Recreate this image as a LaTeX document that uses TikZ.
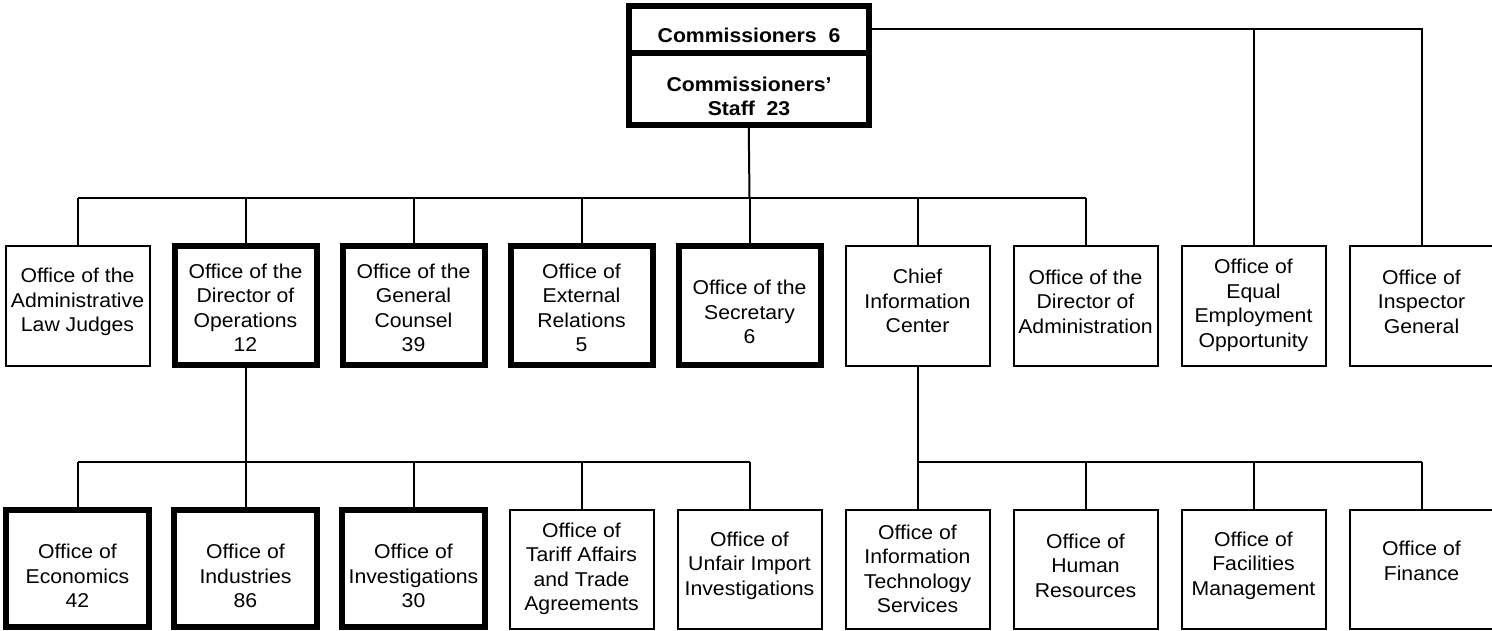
\documentclass[tikz,border=0pt]{standalone}
\usepackage{fontspec}
\setmainfont{Liberation Sans}[FakeStretch=1.06]
\begin{document}
\begin{tikzpicture}[x=1pt,y=-1pt,
  line join=miter,
  thinbox/.style={draw, line width=2pt, minimum width=144pt, minimum height=120pt, inner sep=0pt},
  thickbox/.style={draw, line width=6pt, minimum width=142pt, minimum height=119pt, inner sep=0pt},
  thinlow/.style={draw, line width=2pt, minimum width=144pt, minimum height=119pt, inner sep=0pt},
  thicklow/.style={draw, line width=6pt, minimum width=143pt, minimum height=117pt, inner sep=0pt},
  topbox/.style={draw, line width=6pt, minimum width=239.5pt, inner sep=0pt},
  txt/.style={align=center, inner sep=0pt, font=\fontsize{20}{24.5}\selectfont},
  btxt/.style={txt, font=\fontsize{20}{24.5}\selectfont\bfseries},
  link/.style={draw, line width=2pt}
]
\useasboundingbox (0,0) rectangle (1492,631);

% Commissioners and their staff
\node[topbox, minimum height=47pt] (comm) at (748.75,29.5) {};
\node[topbox, minimum height=72pt] (staff) at (748.75,89) {};
\node[btxt] (comm-t) at (749,35) {Commissioners~~6};
\node[btxt] (staff-t) at (749,96.5) {Commissioners’\\Staff~~23};

% Second tier
\node[thinbox]  (alj)    at (77.5,306)    {};
\node[thickbox] (dirops) at (245.5,305.5) {};
\node[thickbox] (gc)     at (413.5,305.5) {};
\node[thickbox] (extrel) at (581.5,305.5) {};
\node[thickbox] (sec)    at (749.5,305.5) {};
\node[thinbox]  (cic)    at (917.5,306)   {};
\node[thinbox]  (diradm) at (1085.5,306)  {};
\node[thinbox]  (eeo)    at (1253.5,306)  {};
\node[thinbox]  (ig)     at (1421.5,306)  {};

\node[txt] (alj-t)    at (77.5,302)   {Office of the\\Administrative\\Law Judges};
\node[txt] (dirops-t) at (245.5,308)  {Office of the\\Director of\\Operations\\12};
\node[txt] (gc-t)     at (413.5,308)  {Office of the\\General\\Counsel\\39};
\node[txt] (extrel-t) at (581.5,308)  {Office of\\External\\Relations\\5};
\node[txt] (sec-t)    at (749.5,312)  {Office of the\\Secretary\\6};
\node[txt] (cic-t)    at (917.5,301)  {Chief\\Information\\Center};
\node[txt] (diradm-t) at (1085.5,301.5) {Office of the\\Director of\\Administration};
\node[txt] (eeo-t)    at (1253.5,305.5) {Office of\\Equal\\Employment\\Opportunity};
\node[txt] (ig-t)     at (1421.5,301.5) {Office of\\Inspector\\General};

% Third tier
\node[thicklow] (econ)   at (77.5,568.5)  {};
\node[thicklow] (ind)    at (245.5,568.5) {};
\node[thicklow] (inv)    at (413.5,568.5) {};
\node[thinlow]  (tariff) at (581.5,569.5) {};
\node[thinlow]  (unfair) at (749.5,569.5) {};
\node[thinlow]  (its)    at (917.5,569.5) {};
\node[thinlow]  (hr)     at (1085.5,569.5) {};
\node[thinlow]  (fac)    at (1253.5,569.5) {};
\node[thinlow]  (fin)    at (1421.5,569.5) {};

\node[txt] (econ-t)   at (77.5,576)   {Office of\\Economics\\42};
\node[txt] (ind-t)    at (245.5,576)  {Office of\\Industries\\86};
\node[txt] (inv-t)    at (413.5,576)  {Office of\\Investigations\\30};
\node[txt] (tariff-t) at (581.5,569)  {Office of\\Tariff Affairs\\and Trade\\Agreements};
\node[txt] (unfair-t) at (749.5,565.5) {Office of\\Unfair Import\\Investigations};
\node[txt] (its-t)    at (917.5,569)  {Office of\\Information\\Technology\\Services};
\node[txt] (hr-t)     at (1085.5,565.5) {Office of\\Human\\Resources};
\node[txt] (fac-t)    at (1253.5,565.5) {Office of\\Facilities\\Management};
\node[txt] (fin-t)    at (1421.5,561)  {Office of\\Finance};

% Bus lines
\coordinate (bus1) at (749.5,198);
\coordinate (bus2) at (245.5,462);
\coordinate (bus3) at (917.5,462);

% Commissioners to independent offices
\draw[link] (comm.east) -- (ig.north |- comm.east) -- (ig.north);
\draw[link] (eeo.north |- comm.east) -- (eeo.north);

% Staff to second tier
\draw[link] (staff.south) -- (bus1);
\draw[link] (alj.north |- bus1) -- (diradm.north |- bus1);
\foreach \n in {alj,dirops,gc,extrel,sec,cic,diradm}
  \draw[link] (\n.north |- bus1) -- (\n.north);

% Operations to its offices
\draw[link] (dirops.south) -- (bus2);
\draw[link] (econ.north |- bus2) -- (unfair.north |- bus2);
\foreach \n in {econ,ind,inv,tariff,unfair}
  \draw[link] (\n.north |- bus2) -- (\n.north);

% Information center to its offices
\draw[link] (cic.south) -- (bus3);
\draw[link] (its.north |- bus3) -- (fin.north |- bus3);
\foreach \n in {its,hr,fac,fin}
  \draw[link] (\n.north |- bus3) -- (\n.north);
\end{tikzpicture}
\end{document}
